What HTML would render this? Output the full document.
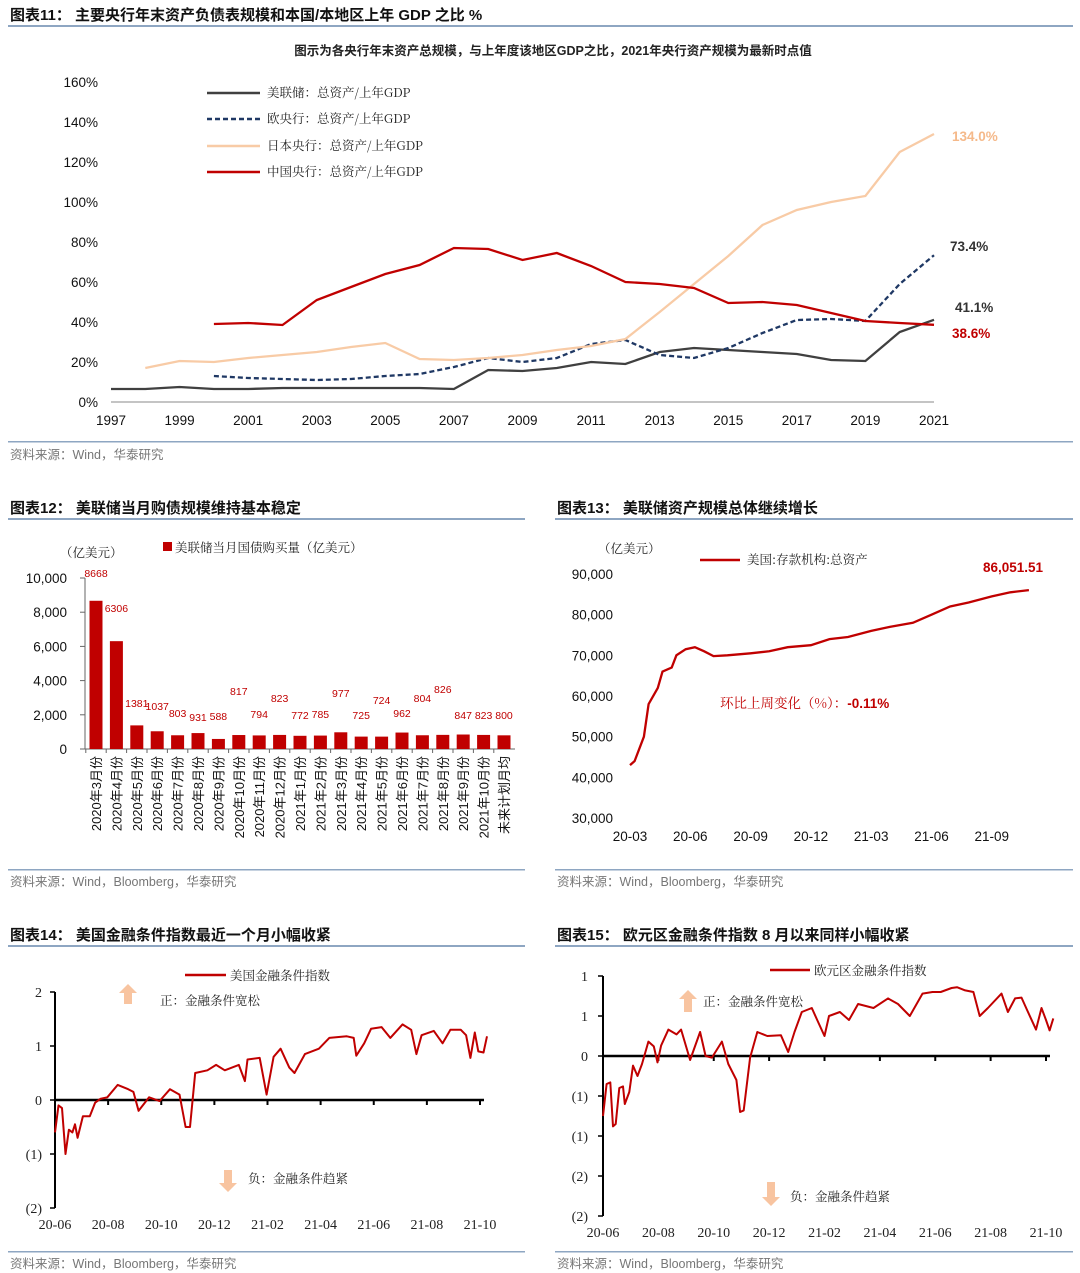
<!DOCTYPE html>
<html><head><meta charset="utf-8">
<style>
html,body{margin:0;padding:0;background:#fff;}
svg{display:block;font-family:"Liberation Sans","Noto Sans CJK SC",sans-serif;}
.t{font-weight:bold;font-size:15px;fill:#111;}
.src{font-size:12.5px;fill:#777;}
.ax{font-size:13.5px;fill:#111;}
.cn{font-family:"Noto Serif CJK SC","Noto Sans CJK SC",serif;font-size:12.5px;fill:#222;}
</style></head>
<body>
<svg id="page" width="1080" height="1273" viewBox="0 0 1080 1273">
 <!-- Chart 11 -->
 <g>
  <text class="t" x="10" y="20">图表11：  主要央行年末资产负债表规模和本国/本地区上年 GDP 之比 %</text>
  <rect x="8" y="25" width="1065" height="2" fill="#8ea6c2"/>
  <text x="553" y="55" text-anchor="middle" style="font-size:12.5px;font-weight:bold;fill:#222">图示为各央行年末资产总规模，与上年度该地区GDP之比，2021年央行资产规模为最新时点值</text>
  <g id="c11axes"></g>
  <g id="c11lines"></g>
  <g>
   <line x1="207" y1="93" x2="260" y2="93" stroke="#404040" stroke-width="2.5"/>
   <text class="cn" x="267" y="97">美联储：总资产/上年GDP</text>
   <line x1="207" y1="119" x2="260" y2="119" stroke="#1f3864" stroke-width="2.5" stroke-dasharray="5,3"/>
   <text class="cn" x="267" y="123">欧央行：总资产/上年GDP</text>
   <line x1="207" y1="146" x2="260" y2="146" stroke="#f8cba6" stroke-width="2.5"/>
   <text class="cn" x="267" y="150">日本央行：总资产/上年GDP</text>
   <line x1="207" y1="172" x2="260" y2="172" stroke="#c00000" stroke-width="2.5"/>
   <text class="cn" x="267" y="176">中国央行：总资产/上年GDP</text>
  </g>
  <text x="952" y="141" style="font-size:13.5px;font-weight:bold;fill:#f5b98a">134.0%</text>
  <text x="950" y="251" style="font-size:13.5px;font-weight:bold;fill:#333">73.4%</text>
  <text x="955" y="312" style="font-size:13.5px;font-weight:bold;fill:#333">41.1%</text>
  <text x="952" y="338" style="font-size:13.5px;font-weight:bold;fill:#c00000">38.6%</text>
  <rect x="8" y="441" width="1065" height="1.5" fill="#8ea6c2"/>
  <text class="src" x="10" y="459">资料来源：Wind，华泰研究</text>
 </g>

 <!-- Chart 12 -->
 <g>
  <text class="t" x="10" y="513">图表12：  美联储当月购债规模维持基本稳定</text>
  <rect x="8" y="518" width="517" height="2" fill="#8ea6c2"/>
  <text class="cn" x="60" y="557">（亿美元）</text>
  <rect x="163" y="542" width="9" height="9" fill="#c00000"/>
  <text class="cn" x="175" y="552">美联储当月国债购买量（亿美元）</text>
  <g id="c12"></g>
  <rect x="8" y="869" width="517" height="1.5" fill="#8ea6c2"/>
  <text class="src" x="10" y="886">资料来源：Wind，Bloomberg，华泰研究</text>
 </g>

 <!-- Chart 13 -->
 <g>
  <text class="t" x="557" y="513">图表13：  美联储资产规模总体继续增长</text>
  <rect x="555" y="518" width="518" height="2" fill="#8ea6c2"/>
  <text class="cn" x="598" y="553">（亿美元）</text>
  <line x1="700" y1="560" x2="740" y2="560" stroke="#c00000" stroke-width="2.5"/>
  <text class="cn" x="747" y="564">美国:存款机构:总资产</text>
  <text x="983" y="572" style="font-size:13.5px;font-weight:bold;fill:#c00000">86,051.51</text>
  <text x="720" y="708" style="font-size:13.5px;fill:#c00000"><tspan font-family="Noto Serif CJK SC,serif">环比上周变化（%）：</tspan><tspan font-weight="bold">-0.11%</tspan></text>
  <g id="c13"></g>
  <rect x="555" y="869" width="518" height="1.5" fill="#8ea6c2"/>
  <text class="src" x="557" y="886">资料来源：Wind，Bloomberg，华泰研究</text>
 </g>

 <!-- Chart 14 -->
 <g>
  <text class="t" x="10" y="940">图表14：  美国金融条件指数最近一个月小幅收紧</text>
  <rect x="8" y="945" width="517" height="2" fill="#8ea6c2"/>
  <line x1="185" y1="975" x2="226" y2="975" stroke="#c00000" stroke-width="2.5"/>
  <text class="cn" x="230" y="980">美国金融条件指数</text>
  <polygon points="128,984 137,993 132,993 132,1004 124,1004 124,993 119,993" fill="#f8c4a0"/>
  <text class="cn" x="160" y="1005">正：金融条件宽松</text>
  <polygon points="228,1192 237,1183 232,1183 232,1170 224,1170 224,1183 219,1183" fill="#f8c4a0"/>
  <text class="cn" x="248" y="1183">负：金融条件趋紧</text>
  <g id="c14"></g>
  <rect x="8" y="1251" width="517" height="1.5" fill="#8ea6c2"/>
  <text class="src" x="10" y="1268">资料来源：Wind，Bloomberg，华泰研究</text>
 </g>

 <!-- Chart 15 -->
 <g>
  <text class="t" x="557" y="940">图表15：  欧元区金融条件指数 8 月以来同样小幅收紧</text>
  <rect x="555" y="945" width="518" height="2" fill="#8ea6c2"/>
  <line x1="770" y1="970" x2="810" y2="970" stroke="#c00000" stroke-width="2.5"/>
  <text class="cn" x="814" y="975">欧元区金融条件指数</text>
  <polygon points="688,990 697,999 692,999 692,1012 684,1012 684,999 679,999" fill="#f8c4a0"/>
  <text class="cn" x="703" y="1006">正：金融条件宽松</text>
  <polygon points="771,1206 780,1197 775,1197 775,1182 767,1182 767,1197 762,1197" fill="#f8c4a0"/>
  <text class="cn" x="790" y="1201">负：金融条件趋紧</text>
  <g id="c15"></g>
  <rect x="555" y="1251" width="518" height="1.5" fill="#8ea6c2"/>
  <text class="src" x="557" y="1268">资料来源：Wind，Bloomberg，华泰研究</text>
 </g>
</svg>
<script>
// ---------- Chart 11 data ----------
const years = [1997,1998,1999,2000,2001,2002,2003,2004,2005,2006,2007,2008,2009,2010,2011,2012,2013,2014,2015,2016,2017,2018,2019,2020,2021];
const fedRatio = [6.5,6.5,7.5,6.5,6.5,7,7,7,7,7,6.5,16,15.5,17,20,19,25,27,26,25,24,21,20.5,35,41.1];
const ecbYears = [2000,2001,2002,2003,2004,2005,2006,2007,2008,2009,2010,2011,2012,2013,2014,2015,2016,2017,2018,2019,2020,2021];
const ecbRatio = [13,12,11.5,11,11.5,13,14,17.5,22,20,22,29,31,23.5,22,27,34.5,41,41.5,40.5,59,73.4];
const bojYears = [1998,1999,2000,2001,2002,2003,2004,2005,2006,2007,2008,2009,2010,2011,2012,2013,2014,2015,2016,2017,2018,2019,2020,2021];
const bojRatio = [17,20.5,20,22,23.5,25,27.5,29.5,21.5,21,22,23.5,26,28,31.5,45,59,73,88.5,96,100,103,125,134];
const pbocYears = [2000,2001,2002,2003,2004,2005,2006,2007,2008,2009,2010,2011,2012,2013,2014,2015,2016,2017,2018,2019,2020,2021];
const pbocRatio = [39,39.5,38.5,51,57.5,64,68.5,77,76.5,71,74.5,68,60,59,57,49.5,50,48.5,44.5,40.5,39.5,38.6];
const c11YTicks = [0,20,40,60,80,100,120,140,160];
const c11XTicks = [1997,1999,2001,2003,2005,2007,2009,2011,2013,2015,2017,2019,2021];

// ---------- Chart 12 data ----------
const purchaseMonths = ["2020年3月份","2020年4月份","2020年5月份","2020年6月份","2020年7月份","2020年8月份","2020年9月份","2020年10月份","2020年11月份","2020年12月份","2021年1月份","2021年2月份","2021年3月份","2021年4月份","2021年5月份","2021年6月份","2021年7月份","2021年8月份","2021年9月份","2021年10月份","未来计划月均"];
const purchaseValues = [8668,6306,1381,1037,803,931,588,817,794,823,772,785,977,725,724,962,804,826,847,823,800];
const c12YTicks = [0,2000,4000,6000,8000,10000];

// ---------- Chart 13 data ----------
const assetWeeks = [0,1,3,4,6,7,9,10,12,14,16,18,21,26,30,34,39,43,47,52,56,61,65,69,73,78,82,86];
const assetValues = [43000,44000,50000,58000,62000,66000,67000,70000,71500,72000,71000,69800,70000,70500,71000,72000,72500,74000,74500,76000,77000,78000,80000,82000,83000,84500,85500,86051.51];
const c13YTicks = [30000,40000,50000,60000,70000,80000,90000];
const c13XTicks = ["20-03","20-06","20-09","20-12","21-03","21-06","21-09"];

// ---------- Chart 14 data ----------
const usFciDays = [0,4,8,12,16,20,23,26,32,40,46,52,60,72,84,90,96,108,120,132,143,150,155,161,175,185,195,211,218,221,235,243,251,259,269,275,287,303,315,335,343,346,355,363,375,385,399,409,415,421,435,445,454,466,472,477,482,486,492,496];
const usFciValues = [-0.6,-0.1,-0.15,-1.0,-0.55,-0.6,-0.45,-0.7,-0.3,-0.3,-0.05,0.02,0.05,0.28,0.2,0.15,-0.2,0.05,-0.02,0.2,0.1,-0.5,-0.5,0.5,0.55,0.65,0.55,0.65,0.35,0.75,0.78,0.1,0.8,0.95,0.6,0.5,0.85,0.95,1.15,1.18,1.15,0.82,1.05,1.32,1.35,1.15,1.4,1.3,0.85,1.2,1.28,1.05,1.3,1.3,1.2,0.78,1.25,0.9,0.88,1.18];
const c14YTicks = [-2,-1,0,1,2];
const c14YLabels = ["(2)","(1)","0","1","2"];
const fciXTicks = ["20-06","20-08","20-10","20-12","21-02","21-04","21-06","21-08","21-10"];

// ---------- Chart 15 data ----------
const euFciDays = [0,4,8,11,14,18,22,24,29,33,38,43,50,56,60,64,72,81,86,96,107,113,120,131,138,147,151,155,162,170,181,196,204,211,219,230,236,244,249,261,271,281,298,314,325,338,352,363,372,384,390,399,408,415,424,439,446,454,461,467,477,483,488,492,496];
const euFciValues = [-0.75,-0.35,-0.33,-0.88,-0.85,-0.4,-0.38,-0.6,-0.45,-0.12,-0.25,-0.1,0.18,0.12,-0.08,0.13,0.33,0.27,0.33,-0.05,0.3,0.0,-0.02,0.18,-0.1,-0.3,-0.7,-0.68,-0.02,0.3,0.25,0.26,0.05,0.3,0.55,0.6,0.45,0.25,0.5,0.55,0.45,0.65,0.6,0.72,0.65,0.5,0.78,0.8,0.8,0.85,0.86,0.82,0.8,0.5,0.6,0.78,0.55,0.72,0.73,0.58,0.33,0.6,0.45,0.32,0.47];
const c15YTicks = [-2,-1.5,-1,-0.5,0,0.5,1];
const c15YLabels = ["(2)","(2)","(1)","(1)","0","1","1"];

const NS = "http://www.w3.org/2000/svg";
function mk(tag, attrs, parent){const e=document.createElementNS(NS,tag);for(const k in attrs)e.setAttribute(k,attrs[k]);parent.appendChild(e);return e;}
function lin(d0,d1,r0,r1){return v=>r0+(v-d0)/(d1-d0)*(r1-r0);}
function path(xs,ys,fx,fy){return xs.map((x,i)=>(i?"L":"M")+fx(x).toFixed(1)+","+fy(ys[i]).toFixed(1)).join("");}

// ---- Chart 11 ----
(function(){
 const ax=document.getElementById("c11axes"), g=document.getElementById("c11lines");
 const x=lin(1997,2021,111,934), y=lin(0,160,402,82);
 c11YTicks.forEach(v=>{
  const t=mk("text",{x:98,y:y(v)+5,"text-anchor":"end",class:"ax"},ax);t.textContent=v+"%";
  
  
 });
 const base=mk("line",{x1:111,y1:402,x2:934,y2:402,stroke:"#888","stroke-width":1},ax);
 
 
 c11XTicks.forEach(v=>{
  const t=mk("text",{x:x(v),y:425,"text-anchor":"middle",class:"ax"},ax);t.textContent=v;
  
  
 });
 const series=[[years,fedRatio,"#404040","","line-fed"],[ecbYears,ecbRatio,"#1f3864","5,3","line-ecb"],[bojYears,bojRatio,"#f8cba6","","line-boj"],[pbocYears,pbocRatio,"#c00000","","line-pboc"]];
 series.forEach(s=>{
  const p=mk("path",{d:path(s[0],s[1],x,y),fill:"none",stroke:s[2],"stroke-width":2.3,"stroke-dasharray":s[3]||"none"},g);
  
  
 });
})();

// ---- Chart 12 ----
(function(){
 const g=document.getElementById("c12");
 const y=lin(0,10000,749,578), step=20.4, cx=i=>96+i*step;
 c12YTicks.forEach(v=>{
  const t=mk("text",{x:67,y:y(v)+5,"text-anchor":"end",class:"ax"},g);t.textContent=v.toLocaleString("en-US");
  
  
  const tk=mk("line",{x1:80,y1:y(v),x2:85,y2:y(v),stroke:"#666"},g);
  
  
 });
 const ya=mk("line",{x1:85,y1:578,x2:85,y2:749,stroke:"#666"},g);
 
 
 const xa=mk("line",{x1:80,y1:749,x2:515,y2:749,stroke:"#666"},g);
 
 
 const lift=[27,25,14,11,4,0,1,26,3,19,2,3,24,2,17,4,19,28,2,2,2];
 purchaseValues.forEach((v,i)=>{
  const r=mk("rect",{x:cx(i)-6.5,y:y(v),width:13,height:749-y(v),fill:"#c00000"},g);
  
  
  const t=mk("text",{x:cx(i),y:Math.min(y(v),y(1400))-4-lift[i],"text-anchor":"middle",style:"font-size:10.5px;fill:#c00000"},g);
  if(i===0){t.setAttribute("y",y(10000)-1);}
  t.textContent=v;
  
  
  const tk=mk("line",{x1:cx(i)-step/2,y1:749,x2:cx(i)-step/2,y2:753,stroke:"#666"},g);
  
  
  const l=mk("text",{transform:"translate("+(cx(i)+5)+",756) rotate(-90)","text-anchor":"end",style:"font-size:13px;fill:#111"},g);
  l.textContent=purchaseMonths[i];
  
  
 });
})();

// ---- Chart 13 ----
(function(){
 const g=document.getElementById("c13");
 const y=lin(30000,90000,818,574), x=lin(0,13,630,690.3);
 c13YTicks.forEach(v=>{
  const t=mk("text",{x:613,y:y(v)+5,"text-anchor":"end",class:"ax"},g);t.textContent=v.toLocaleString("en-US");
  
  
 });
 c13XTicks.forEach((v,i)=>{
  const t=mk("text",{x:x(i*13),y:841,"text-anchor":"middle",class:"ax"},g);t.textContent=v;
  
  
 });
 const p=mk("path",{d:path(assetWeeks,assetValues,x,y),fill:"none",stroke:"#c00000","stroke-width":2.3},g);
 
 
})();

// ---- FCI charts ----
function fci(id,days,vals,yT,yL,x0,x1,y0v,y0,ppu,lblX,yTop,yBot,nm){
 const g=document.getElementById(id);
 const x=lin(0,488,x0,x1), y=v=>y0-v*ppu;
 const ya=mk("line",{x1:x0,y1:yTop,x2:x0,y2:yBot,stroke:"#000","stroke-width":2},g);
 
 
 yT.forEach((v,i)=>{
  const tk=mk("line",{x1:x0-5,y1:y(v),x2:x0,y2:y(v),stroke:"#000","stroke-width":1.5},g);
  
  
  const t=mk("text",{x:lblX,y:y(v)+5,"text-anchor":"end",style:"font-family:'Liberation Serif',serif;font-size:14px;fill:#222"},g);t.textContent=yL[i];
  
  
 });
 const xa=mk("line",{x1:x0,y1:y(0),x2:x1+4,y2:y(0),stroke:"#000","stroke-width":2.5},g);
 
 
 fciXTicks.forEach((v,i)=>{
  const d=i*61;
  const tk=mk("line",{x1:x(d),y1:y(0),x2:x(d),y2:y(0)+5,stroke:"#000","stroke-width":2},g);
  
  
  const t=mk("text",{x:x(d),y:yBot+21,"text-anchor":"middle",style:"font-family:'Liberation Serif',serif;font-size:14px;fill:#222"},g);t.textContent=v;
  
  
 });
 const p=mk("path",{d:path(days,vals,x,y),fill:"none",stroke:"#c00000","stroke-width":2,"stroke-linejoin":"round"},g);
 
 
}
fci("c14",usFciDays,usFciValues,c14YTicks,c14YLabels,55,480,0,1100,54,42,992,1208,"line-us-fci");
fci("c15",euFciDays,euFciValues,c15YTicks,c15YLabels,603,1046,0,1056,80,588,976,1216,"line-euro-fci");
</script>
</body></html>
